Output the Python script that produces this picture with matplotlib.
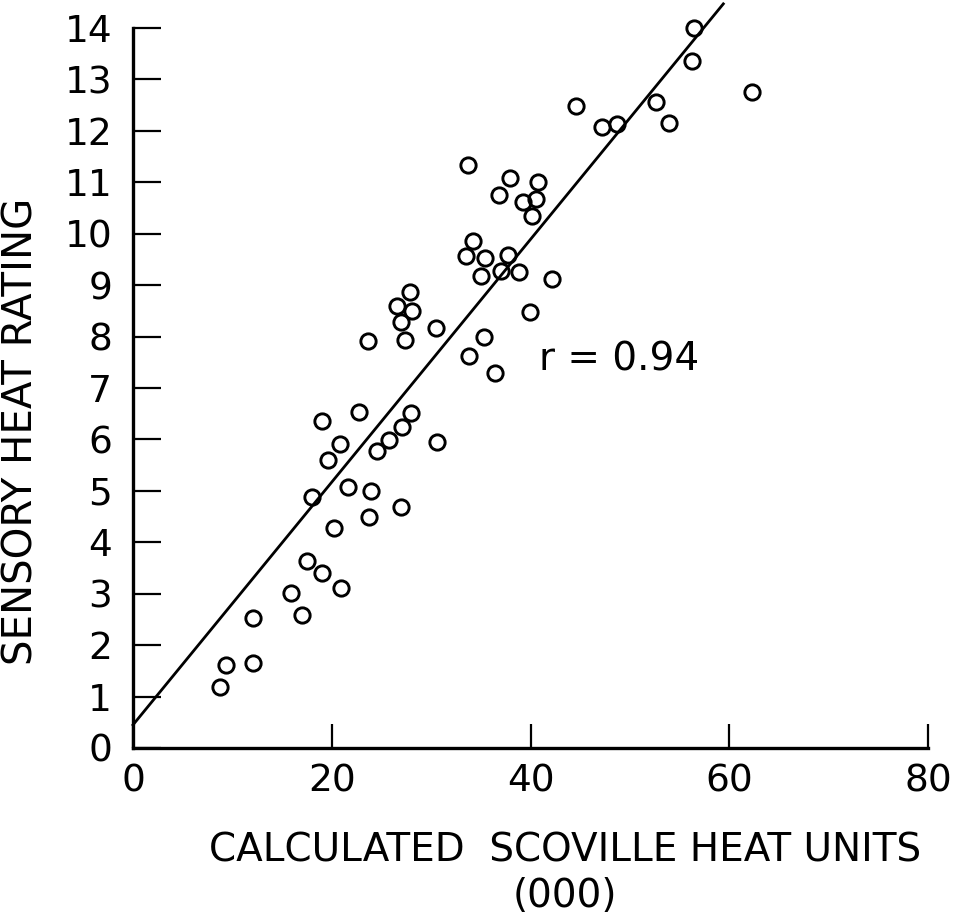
import matplotlib
matplotlib.use('Agg')
import matplotlib.pyplot as plt
import numpy as np

# calculated scoville heat units (thousands) and sensory heat rating
scoville = [19.0, 22.7, 20.8, 19.6, 18.0, 21.6, 28.0, 27.1, 25.8, 24.6,
            30.6, 23.9, 27.0, 23.7, 20.2, 17.5, 19.0, 20.9, 15.9, 17.0,
            12.1, 9.4, 12.1, 8.8,
            33.7, 37.9, 40.8, 36.8, 40.6, 39.2, 40.1, 34.2, 33.5, 35.4,
            37.7, 35.0, 37.0, 38.8, 42.2, 39.9, 27.9, 26.6, 28.1, 27.0,
            27.4, 30.5, 23.6, 35.3, 33.8, 36.4,
            56.5, 56.2, 52.6, 62.3, 44.6, 47.2, 48.7, 53.9]
rating = [6.36, 6.54, 5.91, 5.60, 4.89, 5.07, 6.51, 6.25, 5.99, 5.77,
          5.95, 5.00, 4.69, 4.49, 4.28, 3.63, 3.40, 3.12, 3.01, 2.58,
          2.52, 1.61, 1.65, 1.19,
          11.34, 11.08, 11.00, 10.75, 10.68, 10.62, 10.35, 9.85, 9.56, 9.53,
          9.59, 9.18, 9.28, 9.25, 9.12, 8.48, 8.87, 8.59, 8.50, 8.29,
          7.94, 8.16, 7.91, 8.00, 7.63, 7.29,
          13.99, 13.35, 12.57, 12.76, 12.48, 12.08, 12.14, 12.15]

# regression line
fit_intercept = 0.45
fit_slope = 0.236
fit_x_end = 59.4

xticks = [0, 20, 40, 60, 80]
yticks = list(range(0, 15))

plt.rcParams['font.family'] = ['DejaVu Sans']

fig = plt.figure(figsize=(9.59, 9.17), dpi=100)
ax = fig.add_axes([0.1387, 0.1843, 0.829, 0.7852])

ax.plot(scoville, rating, 'o', markersize=11, markerfacecolor='none',
        markeredgecolor='black', markeredgewidth=2.1, clip_on=False)

line_x = np.array([0, fit_x_end])
ax.plot(line_x, fit_intercept + fit_slope * line_x, '-', color='black',
        linewidth=2.0, clip_on=False)

ax.set_xlim(0, 80)
ax.set_ylim(0, 14)
ax.spines['top'].set_visible(False)
ax.spines['right'].set_visible(False)
ax.spines['left'].set_linewidth(2.4)
ax.spines['bottom'].set_linewidth(2.4)

ax.set_xticks(xticks)
ax.set_xticklabels([str(t) for t in xticks])
ax.set_yticks(yticks)
ax.set_yticklabels([str(t) for t in yticks])
ax.tick_params(axis='x', direction='in', length=17, width=1.6, pad=11, labelsize=27)
ax.tick_params(axis='y', direction='in', length=20, width=1.6, pad=15, labelsize=27)

ax.text(40.9, 7.55, 'r = 0.94', fontsize=28, ha='left', va='center')

ax.set_xlabel('CALCULATED  SCOVILLE HEAT UNITS\n(000)', fontsize=28,
              linespacing=1.25)
ax.xaxis.set_label_coords(0.543, -0.116)
ax.xaxis.label.set_va('top')
ax.set_ylabel('SENSORY HEAT RATING', fontsize=29)
ax.yaxis.set_label_coords(-0.14, 0.44)
ax.yaxis.label.set_va('center')

plt.savefig('out.png', dpi=100)
